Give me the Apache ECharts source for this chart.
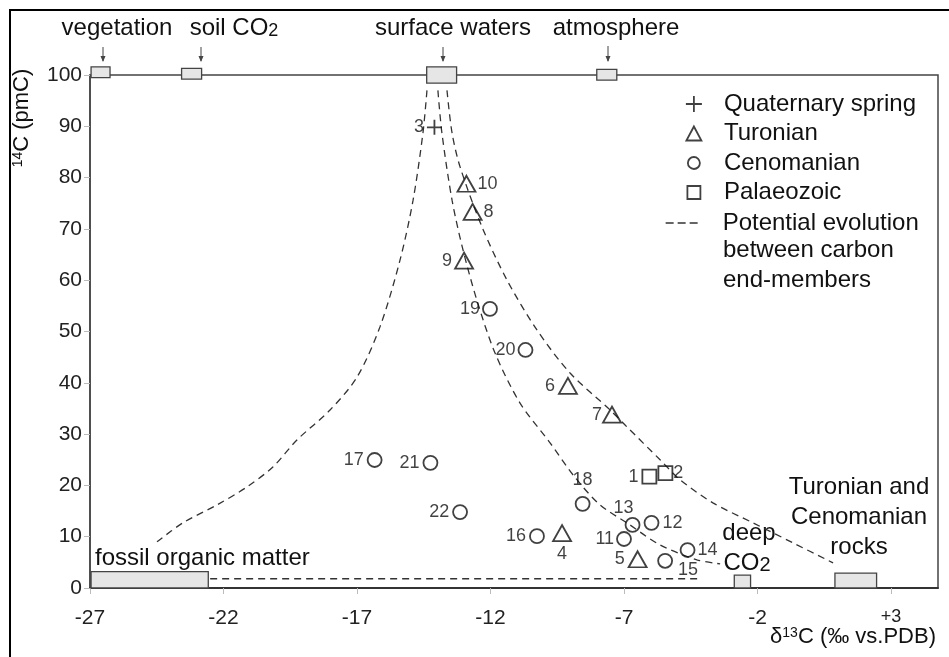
<!DOCTYPE html>
<html>
<head>
<meta charset="utf-8">
<script src="https://cdn.jsdelivr.net/npm/echarts@6/dist/echarts.min.js"></script>
<style>
html, body { margin: 0; padding: 0; background: #fff; }
#chart { width: 949px; height: 657px; }
</style>
</head>
<body>
<div id="chart"></div>
<script>
// ---- data ----
var xTicks = [-27, -22, -17, -12, -7, -2, 3];

var quaternaryIds = ['3'];
var quaternaryPts = [[-14.1, 89.8]];

var turonianIds = ['10', '8', '9', '6', '7', '4', '5'];
var turonianPts = [[-12.9, 78.8], [-12.67, 73.3], [-12.99, 63.8], [-9.1, 39.4], [-7.45, 33.8], [-9.32, 10.7], [-6.49, 5.6]];

var cenomanianIds = ['19', '20', '18', '13', '12', '11', '16', '15', '14', '17', '21', '22'];
var cenomanianPts = [[-12.02, 54.4], [-10.69, 46.4], [-8.55, 16.4], [-6.68, 12.3], [-5.97, 12.7], [-7.0, 9.55],
  [-10.26, 10.1], [-5.46, 5.3], [-4.62, 7.4], [-16.34, 24.95], [-14.25, 24.4], [-13.14, 14.8]];

var palaeozoicIds = ['1', '2'];
var palaeozoicPts = [[-6.05, 21.7], [-5.45, 22.4]];

// dashed evolution curves
var curveLeft = [[-14.38, 97], [-14.53, 88.7], [-14.9, 75.6], [-15.39, 63.9], [-16.14, 50.9], [-17.0, 41.1],
  [-18.01, 34.7], [-19.25, 28.85], [-20.15, 23.6], [-21.12, 19.7], [-22.24, 16.2], [-23.52, 12.7], [-24.49, 9.0]];
var curveMiddle = [[-13.97, 97], [-13.82, 88.7], [-13.44, 75.6], [-13.03, 65.9], [-12.51, 56.1], [-11.83, 45.8],
  [-10.9, 36.1], [-9.77, 28.3], [-8.84, 21.6], [-7.9, 16.2], [-6.89, 12.7], [-5.65, 8.4], [-4.27, 5.5], [-3.4, 4.7]];
var curveRight = [[-13.63, 97], [-13.44, 88.7], [-13.14, 82.1], [-12.32, 70.4], [-11.38, 60.0], [-10.26, 50.3],
  [-9.02, 41.9], [-7.52, 34.7], [-6.89, 31.4], [-5.65, 25.0], [-4.9, 21.1], [-3.67, 16.6], [-2.17, 12.7],
  [-0.67, 8.8], [0.83, 4.9]];
var curveBottom = [[-22.5, 1.8], [-4.1, 1.8]];

// end-member ranges: [x1, x2, y1, y2]
var endMemberBoxes = [
  [-26.96, -26.25, 99.5, 101.6],   // vegetation
  [-23.57, -22.82, 99.2, 101.3],   // soil CO2
  [-14.39, -13.27, 98.4, 101.6],   // surface waters
  [-8.02, -7.27, 99.0, 101.1],     // atmosphere
  [-26.96, -22.57, 0, 3.2],        // fossil organic matter
  [-2.87, -2.26, 0, 2.5],          // deep CO2
  [0.9, 2.46, 0, 2.9]              // Turonian and Cenomanian rocks
];

// ---- styling ----
var FONT = 'Liberation Sans, Arial, sans-serif';
var INK = '#111';

var labelPlace = {
  '3': { position: 'left', distance: 2 },
  '10': { position: 'right', distance: 1 },
  '8': { position: 'right', distance: 1 },
  '9': { position: 'left', distance: 2 },
  '19': { position: 'left', distance: 2 },
  '20': { position: 'left', distance: 2 },
  '6': { position: 'left', distance: 3 },
  '7': { position: 'left', distance: 0 },
  '1': { position: 'left', distance: 3 },
  '2': { position: 'right', distance: 0 },
  '18': { position: 'top', distance: 7 },
  '13': { position: 'top', distance: 0, offset: [-9, 0] },
  '12': { position: 'right', distance: 3 },
  '11': { position: 'left', distance: 2 },
  '16': { position: 'left', distance: 3 },
  '4': { position: 'bottom', distance: 3 },
  '5': { position: 'left', distance: 3 },
  '15': { position: 'right', distance: 5, offset: [0, 9] },
  '14': { position: 'right', distance: 2 },
  '17': { position: 'left', distance: 3 },
  '21': { position: 'left', distance: 3 },
  '22': { position: 'left', distance: 3 }
};

function makePoints(ids, pts) {
  return pts.map(function (p, i) {
    var lp = labelPlace[ids[i]] || { position: 'right', distance: 3 };
    return {
      name: ids[i],
      value: p,
      label: {
        show: true,
        position: lp.position,
        distance: lp.distance,
        offset: lp.offset || [0, 0],
        formatter: ids[i]
      }
    };
  });
}

var markerStyle = { color: 'rgba(0,0,0,0)', borderColor: INK, borderWidth: 1.8 };
var plusPath = 'path://M0,8L16,8M8,0L8,16';

// legend glyphs, each drawn inside the same 16x16 box
var legendIcons = {
  plus: 'path://M0,8L16,8M8,0L8,16',
  triangle: 'path://M0,0M16,16M8,1L15.5,15L0.5,15Z',
  circle: 'path://M0,0M16,16M8,2A6,6,0,1,1,7.99,2Z',
  square: 'path://M0,0M16,16M1.5,1.5L14.5,1.5L14.5,14.5L1.5,14.5Z',
  dash: 'path://M0,0M32,14M0,7L8,7M12,7L20,7M24,7L32,7'
};

function scatterSeries(name, symbol, size, ids, pts) {
  return {
    name: name,
    type: 'scatter',
    symbol: symbol,
    symbolSize: size,
    itemStyle: markerStyle,
    label: { fontSize: 18, fontFamily: FONT, color: INK },
    data: makePoints(ids, pts),
    z: 5
  };
}

var dashStyle = { color: '#333', width: 1.3, type: [7, 5] };
function curveSeries(data, smooth) {
  return {
    name: 'Potential evolution',
    type: 'line',
    data: data,
    smooth: smooth,
    symbol: 'none',
    itemStyle: { color: '#333' },
    lineStyle: dashStyle,
    z: 2
  };
}

var chart = echarts.init(document.getElementById('chart'));

var option = {
  animation: false,
  grid: { left: 90, top: 75, right: 11, bottom: 69, show: true, borderColor: '#444', borderWidth: 1.5 },
  xAxis: {
    type: 'value',
    min: -27,
    max: 4.76,
    axisLine: { onZero: false, lineStyle: { color: '#333', width: 1.8 } },
    axisTick: { show: true, customValues: xTicks, length: 6, lineStyle: { color: '#bbb' } },
    axisLabel: {
      customValues: xTicks,
      margin: 20,
      fontSize: 21,
      fontFamily: FONT,
      color: '#222',
      formatter: function (v) { return v === 3 ? '{p|+3}' : String(v); },
      rich: { p: { fontSize: 18, fontFamily: FONT, color: '#222' } }
    },
    splitLine: { show: false }
  },
  yAxis: {
    type: 'value',
    min: 0,
    max: 100,
    interval: 10,
    axisLine: { show: true, onZero: false, lineStyle: { color: '#444', width: 1.5 } },
    axisTick: { show: true, length: 6, lineStyle: { color: '#bbb' } },
    axisLabel: { margin: 8, fontSize: 21, fontFamily: FONT, color: '#222' },
    splitLine: { show: false }
  },
  legend: [
    {
      orient: 'vertical',
      left: 680,
      top: 87,
      itemWidth: 16,
      itemHeight: 16,
      itemGap: 5.5,
      selectedMode: false,
      textStyle: { fontSize: 24, lineHeight: 24, fontFamily: FONT, color: INK, padding: [0, 0, 0, 17] },
      itemStyle: markerStyle,
      data: [
        { name: 'Quaternary spring', icon: legendIcons.plus },
        { name: 'Turonian', icon: legendIcons.triangle },
        { name: 'Cenomanian', icon: legendIcons.circle },
        { name: 'Palaeozoic', icon: legendIcons.square }
      ]
    },
    {
      orient: 'vertical',
      left: 660,
      top: 206,
      itemWidth: 32,
      itemHeight: 14,
      selectedMode: false,
      textStyle: { fontSize: 24, lineHeight: 24, fontFamily: FONT, color: INK, padding: [0, 0, 0, 20] },
      itemStyle: { color: 'rgba(0,0,0,0)', borderColor: '#333', borderWidth: 1.3 },
      data: [{ name: 'Potential evolution', icon: legendIcons.dash }]
    }
  ],
  series: [
    curveSeries(curveLeft, 0.3),
    curveSeries(curveMiddle, 0.3),
    curveSeries(curveRight, 0.3),
    curveSeries(curveBottom, false),
    {
      name: 'end-members',
      type: 'custom',
      clip: false,
      silent: true,
      z: 4,
      encode: { x: [0, 1], y: [2, 3] },
      data: endMemberBoxes,
      renderItem: function (params, api) {
        var a = api.coord([api.value(0), api.value(3)]);
        var b = api.coord([api.value(1), api.value(2)]);
        return {
          type: 'rect',
          shape: { x: a[0], y: a[1], width: b[0] - a[0], height: b[1] - a[1] },
          style: { fill: '#e6e6e6', stroke: '#444', lineWidth: 1.3 }
        };
      }
    },
    scatterSeries('Quaternary spring', plusPath, 15, quaternaryIds, quaternaryPts),
    scatterSeries('Turonian', 'triangle', [18, 16], turonianIds, turonianPts),
    scatterSeries('Cenomanian', 'circle', 14, cenomanianIds, cenomanianPts),
    scatterSeries('Palaeozoic', 'rect', 14, palaeozoicIds, palaeozoicPts)
  ],
  graphic: [
    // outer frame of the figure
    { type: 'rect', shape: { x: 10, y: 10, width: 1000, height: 700 }, style: { fill: 'none', stroke: '#000', lineWidth: 2 }, silent: true },
    // end-member captions
    { type: 'text', style: { text: 'vegetation', x: 117, y: 28, align: 'center', verticalAlign: 'middle', fontSize: 24, fontFamily: FONT, fill: INK } },
    { type: 'text', style: { text: '{a|soil CO}{b|2}', x: 234, y: 28, align: 'center', verticalAlign: 'middle',
      rich: { a: { fontSize: 24, fontFamily: FONT, fill: INK, verticalAlign: 'bottom' }, b: { fontSize: 18, fontFamily: FONT, fill: INK, verticalAlign: 'bottom' } } } },
    { type: 'text', style: { text: 'surface waters', x: 453, y: 28, align: 'center', verticalAlign: 'middle', fontSize: 24, fontFamily: FONT, fill: INK } },
    { type: 'text', style: { text: 'atmosphere', x: 616, y: 28, align: 'center', verticalAlign: 'middle', fontSize: 24, fontFamily: FONT, fill: INK } },
    { type: 'line', shape: { x1: 103, y1: 47, x2: 103, y2: 61 }, style: { stroke: '#444', lineWidth: 1 } },
    { type: 'polygon', shape: { points: [[100.5, 56], [105.5, 56], [103, 62]] }, style: { fill: '#444' } },
    { type: 'line', shape: { x1: 201, y1: 47, x2: 201, y2: 61 }, style: { stroke: '#444', lineWidth: 1 } },
    { type: 'polygon', shape: { points: [[198.5, 56], [203.5, 56], [201, 62]] }, style: { fill: '#444' } },
    { type: 'line', shape: { x1: 443, y1: 47, x2: 443, y2: 61 }, style: { stroke: '#444', lineWidth: 1 } },
    { type: 'polygon', shape: { points: [[440.5, 56], [445.5, 56], [443, 62]] }, style: { fill: '#444' } },
    { type: 'line', shape: { x1: 608, y1: 46, x2: 608, y2: 61 }, style: { stroke: '#444', lineWidth: 1 } },
    { type: 'polygon', shape: { points: [[605.5, 56], [610.5, 56], [608, 62]] }, style: { fill: '#444' } },
    { type: 'text', style: { text: 'fossil organic matter', x: 95, y: 558, align: 'left', verticalAlign: 'middle', fontSize: 24, fontFamily: FONT, fill: INK } },
    { type: 'text', style: { text: 'deep', x: 749, y: 533, align: 'center', verticalAlign: 'middle', fontSize: 24, fontFamily: FONT, fill: INK } },
    { type: 'text', style: { text: '{a|CO}{b|2}', x: 747, y: 563, align: 'center', verticalAlign: 'middle',
      rich: { a: { fontSize: 24, fontFamily: FONT, fill: INK, verticalAlign: 'bottom' }, b: { fontSize: 20, fontFamily: FONT, fill: INK, verticalAlign: 'bottom' } } } },
    { type: 'text', style: { text: 'Turonian and\nCenomanian\nrocks', x: 859, y: 472, align: 'center', verticalAlign: 'top', lineHeight: 30, fontSize: 24, fontFamily: FONT, fill: INK } },
    // rest of the legend caption
    { type: 'text', style: { text: 'between carbon\nend-members', x: 723, y: 236, align: 'left', verticalAlign: 'top', lineHeight: 29.5, fontSize: 24, fontFamily: FONT, fill: INK } },
    // axis titles
    { type: 'text', style: { text: '\u03b4{s|13}C (\u2030 vs.PDB)', x: 936, y: 637, align: 'right', verticalAlign: 'middle', fontSize: 22, fontFamily: FONT, fill: INK,
      rich: { s: { fontSize: 14, fontFamily: FONT, fill: INK, verticalAlign: 'top' } } } },
    { type: 'text', rotation: Math.PI / 2, x: 22, y: 118, style: { text: '{s|14}C (pmC)', x: 0, y: 0, align: 'center', verticalAlign: 'middle', fontSize: 22, fontFamily: FONT, fill: INK,
      rich: { s: { fontSize: 14, fontFamily: FONT, fill: INK, verticalAlign: 'top' } } } }
  ]
};

chart.setOption(option);
</script>
</body>
</html>
